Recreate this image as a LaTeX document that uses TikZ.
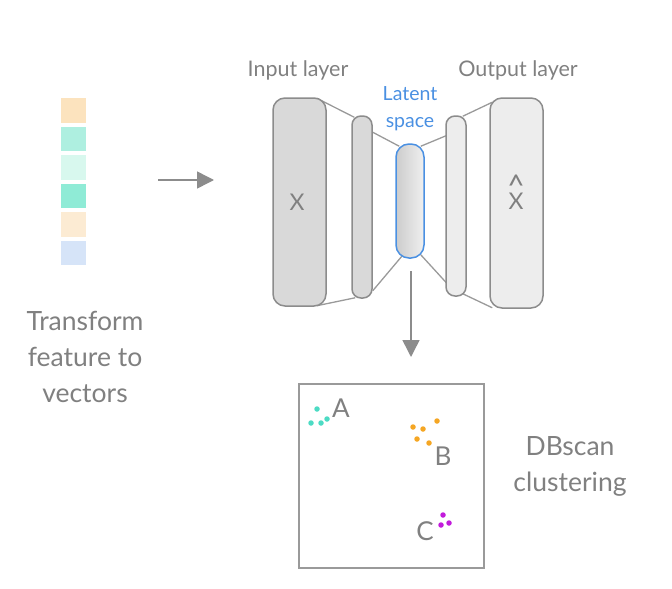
\documentclass[tikz,border=0pt]{standalone}
\usepackage{fontspec}
\setmainfont{Lato}
\usepackage{tikz}
\usetikzlibrary{arrows.meta,positioning,backgrounds}

\definecolor{txtgray}{HTML}{808080}
\definecolor{edgegray}{HTML}{8C8C8C}
\definecolor{linkgray}{HTML}{9A9A9A}
\definecolor{latblue}{HTML}{4A90E2}
\definecolor{vecA}{HTML}{FCE3BE}
\definecolor{vecB}{HTML}{AEEFE0}
\definecolor{vecC}{HTML}{D8F8EE}
\definecolor{vecD}{HTML}{8FEBD6}
\definecolor{vecE}{HTML}{FCEBD3}
\definecolor{vecF}{HTML}{D6E4F8}
\definecolor{cluA}{HTML}{4DDBC4}
\definecolor{cluB}{HTML}{F5A623}
\definecolor{cluC}{HTML}{C21BDB}

\begin{document}
\begin{tikzpicture}[
    x=1pt, y=-1pt,
    cell/.style={rectangle, inner sep=0pt, minimum width=25pt, minimum height=24.5pt},
    layerbox/.style={rectangle, draw=edgegray, line width=1.5pt, inner sep=0pt},
    link/.style={draw=linkgray, line width=1.3pt},
    flow/.style={draw=edgegray, line width=1.5pt, -{Triangle[length=17pt,width=17pt]}},
    lbl/.style={text=txtgray, align=center, font=\fontsize{21.5}{27}\selectfont},
    big/.style={text=txtgray, align=center, font=\fontsize{26.5}{36}\selectfont},
    sym/.style={text=txtgray, inner sep=0pt, font=\fontsize{23}{26}\selectfont},
    dot/.style={circle, inner sep=0pt, minimum size=5.5pt},
    tag/.style={text=txtgray, font=\fontsize{26}{30}\selectfont}
]
\useasboundingbox (0,0) rectangle (672,589);

% Feature vector
\foreach \c [count=\i] in {vecA,vecB,vecC,vecD,vecE,vecF}
  \node[cell, fill=\c] (v\i) at (73.5, 110.5+28.5*\i-28.5) {};
\node[big] (transform) at (85,357) {Transform\\feature to\\vectors};

% Autoencoder
\node[layerbox, fill=black!15, rounded corners=12pt, minimum width=53pt, minimum height=208pt] (X) at (299.5,202) {};
\node[layerbox, fill=black!15, rounded corners=9pt, minimum width=20pt, minimum height=182pt] (E2) at (362,207) {};
\node[layerbox, draw=latblue, left color=black!20, right color=black!6, rounded corners=13pt, minimum width=28pt, minimum height=114pt] (L) at (410,201) {};
\node[layerbox, fill=black!7, rounded corners=9pt, minimum width=20pt, minimum height=180pt] (D2) at (456,206) {};
\node[layerbox, fill=black!7, rounded corners=12pt, minimum width=53pt, minimum height=210pt] (Xh) at (516.5,203) {};
\node[sym] (xin) at (297,202) {X};
\node[sym, anchor=base] (xout) at (516,209)
  {\ooalign{X\cr\hidewidth\raisebox{13pt}{\fontsize{30}{30}\selectfont\^{}}\hidewidth\cr}};

\node[lbl] (inlbl) at (298,70) {Input layer};
\node[lbl] (outlbl) at (518,70) {Output layer};
\node[lbl, text=latblue, font=\fontsize{19.5}{27}\selectfont] (latlbl) at (410,109) {Latent\\space};

\begin{scope}[on background layer]
\draw[link] ([xshift=-10pt,yshift=-1pt]X.north east) -- ([xshift=3pt,yshift=-2pt]E2.north west);
\draw[link] ([xshift=-10pt,yshift=1pt]X.south east) -- ([xshift=4pt,yshift=1pt]E2.south west);
\draw[link] ([yshift=-17pt]E2.north east) -- ([xshift=4pt,yshift=-3pt]L.north west);
\draw[link] ([yshift=8pt]E2.south east) -- ([xshift=7pt,yshift=3pt]L.south west);
\draw[link] ([xshift=-4pt,yshift=-3pt]L.north east) -- ([xshift=2pt,yshift=-20pt]D2.north west);
\draw[link] ([xshift=-4pt,yshift=4pt]L.south east) -- ([xshift=2pt,yshift=13pt]D2.south west);
\draw[link] ([xshift=-4pt,yshift=-1pt]D2.north east) -- ([xshift=3pt,yshift=-5pt]Xh.north west);
\draw[link] ([xshift=-4pt,yshift=3pt]D2.south east) -- ([xshift=3pt,yshift=1pt]Xh.south west);
\end{scope}

% Arrows
\coordinate (arrS) at (158,180);
\coordinate (arrE) at (214,180);
\draw[flow] (arrS) -- (arrE);
\coordinate (downS) at (411,271);
\coordinate (downE) at (411,357);
\draw[flow] (downS) -- (downE);

% Clustering
\node[rectangle, draw=linkgray, line width=1.5pt, inner sep=0pt, minimum width=185pt, minimum height=184pt] (clu) at (391.5,476) {};
\foreach \p in {(317,409),(311,423),(321,423),(327,419)}
  \node[dot, fill=cluA] at \p {};
\foreach \p in {(413,427),(423,429),(437,421),(417,439),(429,443)}
  \node[dot, fill=cluB] at \p {};
\foreach \p in {(443,515),(449,523),(441,525)}
  \node[dot, fill=cluC] at \p {};
\node[tag] (tA) at (341,408) {A};
\node[tag] (tB) at (443,456) {B};
\node[tag] (tC) at (425,531) {C};
\node[big] (dbscan) at (570,466) {DBscan\\clustering};

\end{tikzpicture}
\end{document}
